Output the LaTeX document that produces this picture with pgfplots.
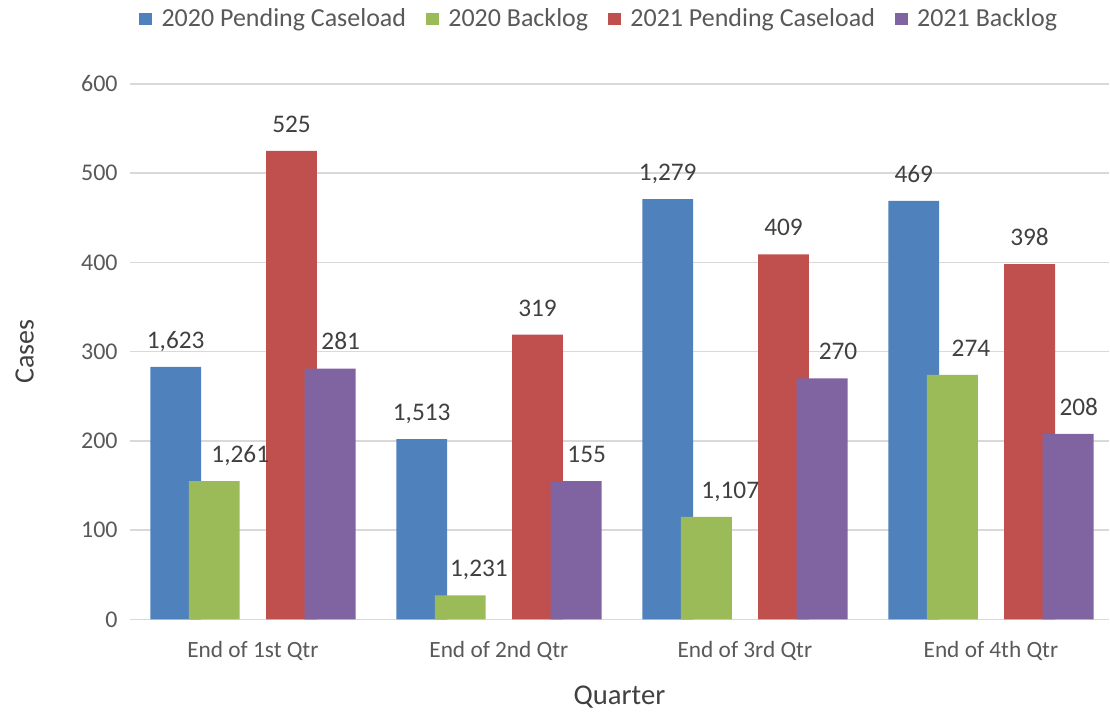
\documentclass[border=0pt]{standalone}
\usepackage{pgfplots}
\pgfplotsset{compat=1.18}
\usepackage{pgfplotstable}
\usepackage{fontspec}
\setmainfont{Carlito}
\definecolor{cblue}{HTML}{4F81BD}
\definecolor{cgreen}{HTML}{9BBB59}
\definecolor{cred}{HTML}{C0504D}
\definecolor{cpurple}{HTML}{8064A2}
\definecolor{ctick}{HTML}{595959}
\definecolor{clab}{HTML}{404040}
\definecolor{cgrid}{HTML}{D9D9D9}

\pgfplotstableread{
x y lab dx
0 283 1,623 0
1 202 1,513 0
2 471 1,279 0
3 469 469 0
}\pendA
\pgfplotstableread{
x y lab dx
0 155 1,261 19.5
1 27 1,231 14
2 115 1,107 18
3 274 274 14
}\backA
\pgfplotstableread{
x y lab dx
0 525 525 0
1 319 319 0
2 409 409 0
3 398 398 0
}\pendB
\pgfplotstableread{
x y lab dx
0 281 281 8
1 155 155 8
2 270 270 12
3 208 208 8
}\backB

\begin{document}
\begin{tikzpicture}
\begin{axis}[
  name=ax,
  scale only axis, width=735pt, height=402pt,
  xmin=-0.5, xmax=3.48, ymin=0, ymax=600,
  ybar, bar width=0.207,
  ytick={0,100,...,600},
  xtick={0,1,2,3},
  xticklabels={End of 1st Qtr,End of 2nd Qtr,End of 3rd Qtr,End of 4th Qtr},
  axis line style={draw=none},
  major tick length=0pt,
  ymajorgrids, grid style={color=cgrid, line width=1.1pt},
  yticklabel style={font=\fontsize{18}{20}\selectfont, text=ctick, inner sep=0pt, xshift=-9pt},
  xticklabel style={font=\fontsize{17.5}{20}\selectfont, text=ctick, inner sep=0pt, yshift=-16pt},
  /pgf/number format/assume math mode=true,
  xlabel={Quarter}, ylabel={Cases},
  every axis x label/.style={at={(rel axis cs:0.5,0)}, yshift=-58pt, anchor=center, font=\fontsize{21.5}{24}\selectfont, text=clab},
  every axis y label/.style={at={(rel axis cs:0,0.5)}, xshift=-79pt, rotate=90, anchor=center, font=\fontsize{21}{24}\selectfont, text=clab},
  legend columns=4,
  legend style={draw=none, at={(rel axis cs:0.5,1)}, anchor=center, xshift=-15pt, yshift=48.75pt,
    font=\fontsize{19.5}{22}\selectfont, text=ctick, column sep=0pt,
    /tikz/every odd column/.append style={column sep=5pt},
    /tikz/every even column/.append style={column sep=13pt}},
  legend image code/.code={\fill[#1] (0pt,-4.9pt) rectangle (9.75pt,4.85pt);},
  point meta=explicit symbolic,
  nodes near coords,
  visualization depends on={\thisrow{dx} \as \dx},
  every node near coord/.append style={anchor=base, yshift=14pt, xshift=\dx pt, inner sep=0pt, text=clab, font=\fontsize{19}{22}\selectfont},
]
\addplot[fill=cblue, draw=none, bar shift=-0.3137] table[x=x, y=y, meta=lab] {\pendA};
\addlegendentry{2020 Pending Caseload}
\addplot[fill=cgreen, draw=none, bar shift=-0.157] table[x=x, y=y, meta=lab] {\backA};
\addlegendentry{2020 Backlog}
\addplot[fill=cred, draw=none, bar shift=0.157] table[x=x, y=y, meta=lab] {\pendB};
\addlegendentry{2021 Pending Caseload}
\addplot[fill=cpurple, draw=none, bar shift=0.3137] table[x=x, y=y, meta=lab] {\backB};
\addlegendentry{2021 Backlog}
\end{axis}
\path ([xshift=-97.5pt, yshift=-72pt]ax.south west) ([xshift=0.75pt, yshift=63pt]ax.north east);
\end{tikzpicture}
\end{document}
